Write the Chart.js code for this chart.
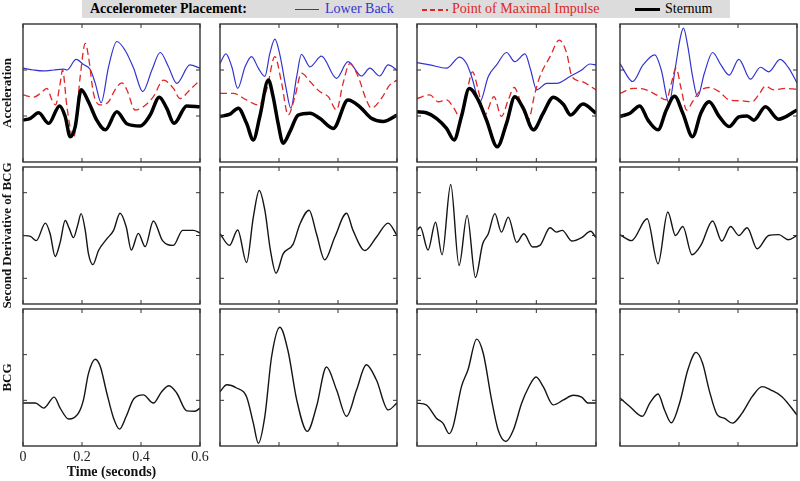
<!DOCTYPE html>
<html>
<head>
<meta charset="utf-8">
<script src="https://cdn.jsdelivr.net/npm/chart.js@4.4.1/dist/chart.umd.min.js"></script>
<style>
  body { margin: 0; background: #fff; }
  #page { position: relative; width: 800px; height: 481px; overflow: hidden; font-family: "Liberation Serif", serif; }
  #page canvas { position: absolute; }
  #legend { position: absolute; left: 82px; top: 0; width: 648px; height: 18px; background: #dcdcdc; font-size: 14px; line-height: 18px; }
  #legend span { position: absolute; top: 0; white-space: nowrap; }
  #legend i { position: absolute; display: block; }
</style>
</head>
<body>
<div id="page">
  <div id="legend">
    <span style="left:8px;font-weight:bold">Accelerometer Placement:</span>
    <i style="left:213px;top:9px;width:24px;height:1.2px;background:#3434d0"></i>
    <span style="left:243px;color:#3434d0">Lower Back</span>
    <i style="left:340px;top:9px;width:26px;height:1.5px;background:repeating-linear-gradient(90deg,#e02626 0 5px,transparent 5px 8px)"></i>
    <span style="left:370px;color:#e02626">Point of Maximal Impulse</span>
    <i style="left:553px;top:8px;width:25px;height:3px;background:#000"></i>
    <span style="left:583px">Sternum</span>
  </div>
</div>
<script>
// tick values
var timeTicks = [0, 0.2, 0.4, 0.6];
var accTicks = [-0.5, 0.5];
var d2Ticks = [-1, 0, 1];
var bcgTicks = [-0.5, 0.5];
var rowTitles = ['Acceleration', 'Second Derivative of BCG', 'BCG'];

// subject 1 - acceleration
var s1BackT = [0, .036, .07, .104, .138, .149, .18, .205, .228, .245, .265, .29, .318, .346, .375, .406, .437, .465, .493, .521, .566, .6];
var s1BackV = [.54, .50, .48, .50, .52, .50, .73, .62, .51, .21, -.21, .57, 1.12, .93, .54, .03, .50, .88, .57, .21, .61, .54];
var s1PmiT = [0, .036, .059, .081, .098, .11, .126, .134, .149, .171, .194, .211, .222, .239, .262, .29, .312, .335, .352, .38, .408, .442, .476, .51, .532, .566, .6];
var s1PmiV = [-.04, -.09, -.01, .10, -.15, -.26, .21, .50, -.30, -.99, .36, 1.08, .79, -.01, -.26, -.19, .07, .22, .07, -.37, -.30, -.08, .28, .10, -.12, .07, .28];
var s1SterT = [0, .025, .053, .087, .124, .143, .16, .177, .197, .222, .25, .279, .318, .352, .397, .431, .462, .487, .512, .555, .6];
var s1SterV = [-.59, -.55, -.43, -.66, -.28, -.51, -.95, -.73, .07, -.19, -.59, -.80, -.41, -.67, -.72, -.48, -.09, -.33, -.66, -.28, -.30];

// subject 2 - acceleration
var s2BackT = [0, .02, .04, .06, .085, .107, .13, .152, .169, .186, .203, .223, .24, .26, .276, .305, .344, .395, .434, .48, .508, .541, .57, .6];
var s2BackV = [.64, .85, .57, .10, .57, .79, .54, .36, .86, 1.17, .83, .14, -.33, .36, .84, .57, .80, .32, .68, .37, .54, .37, .61, .50];
var s2PmiT = [0, .045, .09, .13, .158, .186, .209, .231, .254, .276, .305, .338, .367, .395, .417, .44, .468, .496, .513, .547, .575, .6];
var s2PmiV = [-.01, -.01, -.15, -.26, .07, .79, .21, -.48, -.08, .43, .25, .03, -.08, -.37, .21, .64, .36, -.15, -.33, -.12, .17, .28];
var s2SterT = [0, .034, .062, .09, .113, .135, .164, .18, .197, .214, .237, .265, .305, .338, .384, .434, .474, .513, .553, .6];
var s2SterV = [-.51, -.46, -.33, -.66, -1.02, -.51, .28, -.08, -.66, -1.09, -.84, -.48, -.44, -.55, -.77, -.15, -.30, -.55, -.62, -.48];

// subject 3 - acceleration
var s3BackT = [0, .043, .099, .143, .166, .183, .211, .239, .267, .3, .328, .362, .381, .401, .435, .468, .513, .552, .58, .6];
var s3BackV = [.66, .61, .54, .78, .64, .36, -.19, .36, .61, .88, .68, .85, .50, .07, .21, .21, .36, .50, .63, .61];
var s3PmiT = [0, .043, .071, .099, .121, .143, .166, .186, .205, .227, .258, .283, .306, .326, .345, .373, .395, .412, .446, .477, .502, .519, .552, .6];
var s3PmiV = [-.12, -.04, -.19, -.15, -.30, -.51, -.01, .46, .07, -.48, -.08, -.51, -.15, .12, -.15, -.59, -.01, .36, .79, 1.15, .86, .36, .25, .07];
var s3SterT = [0, .031, .065, .099, .124, .149, .175, .205, .233, .269, .3, .328, .356, .39, .423, .457, .491, .515, .556, .6];
var s3SterV = [-.41, -.43, -.55, -.77, -1.02, -.51, .10, -.15, -.59, -1.17, -.66, -.08, -.33, -.80, -.44, -.09, -.25, -.48, -.24, -.44];

// subject 4 - acceleration
var s4BackT = [0, .043, .078, .118, .14, .166, .188, .205, .215, .23, .246, .263, .286, .314, .342, .37, .403, .442, .476, .504, .543, .571, .6];
var s4BackV = [.64, .25, .61, .83, .50, -.22, .57, 1.22, 1.41, 1.01, .36, -.08, .43, .88, .61, .39, .73, .30, .56, .46, .73, .55, .22];
var s4PmiT = [0, .045, .084, .123, .157, .174, .19, .207, .226, .246, .269, .302, .336, .37, .414, .448, .47, .493, .521, .56, .6];
var s4PmiV = [-.01, .10, .08, -.04, -.15, .21, .54, .10, -.37, -.19, .03, .12, .03, -.15, -.17, -.19, -.04, .15, .07, .10, .08];
var s4SterT = [0, .034, .067, .095, .129, .157, .185, .213, .246, .274, .302, .336, .37, .403, .431, .454, .493, .537, .6];
var s4SterV = [-.51, -.44, -.28, -.59, -.80, -.37, -.07, -.44, -.95, -.44, -.19, -.51, -.73, -.52, -.50, -.59, -.30, -.57, -.37];

// second derivative of BCG
var s1D2T = [0, .025, .045, .076, .092, .109, .126, .143, .157, .171, .185, .197, .211, .222, .237, .256, .284, .307, .329, .35, .367, .391, .414, .442, .473, .51, .541, .578, .6];
var s1D2V = [0, -.02, -.12, .29, .04, -.49, -.16, .35, .16, -.05, .23, .51, .12, -.43, -.68, -.35, -.08, .12, .52, .20, -.34, .05, -.26, .34, -.12, -.23, .12, .12, .06];
var s2D2T = [0, .032, .06, .09, .113, .133, .152, .171, .19, .214, .248, .271, .302, .327, .355, .389, .429, .451, .491, .53, .57, .6];
var s2D2V = [.04, -.23, .13, -.63, .43, 1.05, .59, -.35, -.88, -.43, -.20, .27, .59, .04, -.57, -.04, .52, .12, -.35, -.04, .29, 0];
var s3D2T = [0, .011, .037, .062, .084, .113, .141, .168, .196, .22, .239, .261, .283, .306, .334, .358, .388, .412, .446, .468, .487, .519, .552, .582, .6];
var s3D2V = [.12, .20, -.34, .31, -.45, 1.19, -.70, .47, -.98, -.20, .04, .51, .08, .43, -.16, .04, -.27, -.23, .18, .08, .12, -.13, -.05, .10, -.05];
var s4D2T = [0, .039, .092, .129, .162, .188, .213, .244, .274, .314, .345, .375, .403, .431, .465, .504, .538, .571, .6];
var s4D2V = [.02, -.12, .39, -.66, .55, 0, .21, -.45, -.23, .34, -.13, .21, 0, .18, -.31, 0, .02, -.10, 0];

// BCG
var s1BcgT = [0, .042, .07, .106, .126, .155, .188, .205, .222, .245, .262, .284, .307, .327, .35, .375, .408, .442, .47, .495, .521, .555, .583, .6];
var s1BcgV = [-.56, -.56, -.67, -.43, -.67, -.91, -.78, -.49, .09, .40, .24, -.34, -.89, -1.13, -.85, -.47, -.38, -.56, -.31, -.18, -.34, -.73, -.74, -.67];
var s2BcgT = [0, .023, .056, .09, .113, .13, .152, .175, .203, .231, .26, .296, .327, .361, .395, .429, .463, .496, .53, .57, .6];
var s2BcgV = [-.31, -.16, -.23, -.42, -1.00, -1.44, -.85, .46, 1.10, .57, -.49, -1.18, -.64, .23, -.27, -.85, -.27, .28, -.05, -.71, -.56];
var s3BcgT = [0, .031, .065, .087, .108, .121, .149, .171, .2, .222, .25, .272, .298, .323, .351, .373, .399, .423, .457, .491, .524, .552, .574, .6];
var s3BcgV = [-.56, -.60, -.89, -1.00, -1.23, -1.07, -.20, .17, .84, .53, -.49, -1.15, -1.40, -1.15, -.56, -.23, .01, -.20, -.60, -.49, -.39, -.43, -.56, -.56];
var s4BcgT = [0, .034, .076, .101, .129, .151, .174, .202, .23, .258, .28, .302, .33, .353, .381, .414, .448, .482, .51, .549, .6];
var s4BcgV = [-.45, -.64, -.85, -.56, -.36, -.71, -.99, -.56, .17, .55, .31, -.27, -.82, -.89, -1.00, -.78, -.42, -.20, -.27, -.42, -.82];

// layout of the panels (px)
var colL = [23, 220, 417, 620], colR = [200, 397, 596, 797];
var rowT = [24, 167, 309], rowB = [162, 304, 446];
var rowRange = [1.5, 1.6, 1.5];
var rowTicks = [accTicks, d2Ticks, bcgTicks];

var estilos = {
	back: { color: '#3434d0', width: 1.2, dash: [], order: 3 },
	pmi:  { color: '#e02626', width: 1.3, dash: [7, 4], order: 2 },
	ster: { color: '#000000', width: 3.5, dash: [], order: 1 },
	sig:  { color: '#151515', width: 1.4, dash: [], order: 1 }
};

var paineis = [
	{ row: 0, col: 0, lines: [[s1BackT, s1BackV, 'back'], [s1PmiT, s1PmiV, 'pmi'], [s1SterT, s1SterV, 'ster']] },
	{ row: 0, col: 1, lines: [[s2BackT, s2BackV, 'back'], [s2PmiT, s2PmiV, 'pmi'], [s2SterT, s2SterV, 'ster']] },
	{ row: 0, col: 2, lines: [[s3BackT, s3BackV, 'back'], [s3PmiT, s3PmiV, 'pmi'], [s3SterT, s3SterV, 'ster']] },
	{ row: 0, col: 3, lines: [[s4BackT, s4BackV, 'back'], [s4PmiT, s4PmiV, 'pmi'], [s4SterT, s4SterV, 'ster']] },
	{ row: 1, col: 0, lines: [[s1D2T, s1D2V, 'sig']] },
	{ row: 1, col: 1, lines: [[s2D2T, s2D2V, 'sig']] },
	{ row: 1, col: 2, lines: [[s3D2T, s3D2V, 'sig']] },
	{ row: 1, col: 3, lines: [[s4D2T, s4D2V, 'sig']] },
	{ row: 2, col: 0, lines: [[s1BcgT, s1BcgV, 'sig']] },
	{ row: 2, col: 1, lines: [[s2BcgT, s2BcgV, 'sig']] },
	{ row: 2, col: 2, lines: [[s3BcgT, s3BcgV, 'sig']] },
	{ row: 2, col: 3, lines: [[s4BcgT, s4BcgV, 'sig']] }
];

// moldura com ticks para dentro (estilo matlab)
var moldura = {
	id: 'moldura',
	afterDatasetsDraw: function (chart, args, opts) {
		var a = chart.chartArea, ctx = chart.ctx;
		var sx = chart.scales.x, sy = chart.scales.y;
		ctx.save();
		ctx.strokeStyle = '#333';
		ctx.lineWidth = 1.4;
		ctx.strokeRect(a.left, a.top, a.right - a.left, a.bottom - a.top);
		ctx.lineWidth = 1;
		ctx.beginPath();
		timeTicks.forEach(function (v) {
			var px = sx.getPixelForValue(v);
			ctx.moveTo(px, a.bottom); ctx.lineTo(px, a.bottom - 4);
			ctx.moveTo(px, a.top); ctx.lineTo(px, a.top + 4);
		});
		opts.ticks.forEach(function (v) {
			var py = sy.getPixelForValue(v);
			ctx.moveTo(a.left, py); ctx.lineTo(a.left + 4, py);
			ctx.moveTo(a.right, py); ctx.lineTo(a.right - 4, py);
		});
		ctx.stroke();
		ctx.restore();
	}
};

var page = document.getElementById('page');
var P = 3;     // folga normal
var PT = 14;   // folga extra na 1a coluna para o titulo do eixo y

paineis.forEach(function (p) {
	var first = p.col === 0;
	var corner = first && p.row === 2;
	var padL = first ? 0 : P;
	var padT = first ? PT : P;
	var padR = corner ? 14 : P;
	var padB = corner ? 0 : (first ? PT : P);
	var left = colL[p.col] - (first ? colL[0] : P);
	var top = rowT[p.row] - padT;
	var right = colR[p.col] + padR;
	var bottom = corner ? 481 : rowB[p.row] + padB;

	var cv = document.createElement('canvas');
	cv.width = right - left;
	cv.height = bottom - top;
	cv.style.left = left + 'px';
	cv.style.top = top + 'px';
	page.appendChild(cv);

	var datasets = p.lines.map(function (l) {
		var st = estilos[l[2]];
		return {
			data: l[0].map(function (t, i) { return { x: t, y: l[1][i] }; }),
			borderColor: st.color,
			borderWidth: st.width,
			borderDash: st.dash,
			order: st.order,
			pointRadius: 0,
			fill: false,
			cubicInterpolationMode: 'monotone'
		};
	});

	new Chart(cv, {
		type: 'line',
		data: { datasets: datasets },
		options: {
			responsive: false,
			animation: false,
			devicePixelRatio: 1,
			layout: { padding: { left: padL, top: padT, right: padR, bottom: padB } },
			plugins: {
				legend: { display: false },
				tooltip: { enabled: false },
				moldura: { ticks: rowTicks[p.row] }
			},
			scales: {
				x: {
					type: 'linear', min: 0, max: 0.6,
					display: corner,
					grid: { display: false, drawTicks: false },
					border: { display: false },
					ticks: { stepSize: 0.2, padding: 3, color: '#222', font: { family: 'Liberation Serif', size: 14 } },
					title: { display: true, text: 'Time (seconds)', color: '#111', padding: { top: 0, bottom: 0 },
						font: { family: 'Liberation Serif', size: 14, weight: 'bold' } },
					afterFit: function (s) { if (corner) s.height = 481 - rowB[2]; }
				},
				y: {
					type: 'linear', min: -rowRange[p.row], max: rowRange[p.row],
					display: first,
					grid: { display: false, drawTicks: false },
					border: { display: false },
					ticks: { display: false },
					title: { display: true, text: rowTitles[p.row], color: '#111', padding: { top: 0, bottom: 0 },
						font: { family: 'Liberation Serif', size: 13, weight: 'bold' } },
					afterFit: function (s) { if (first) s.width = colL[0]; }
				}
			}
		},
		plugins: [moldura]
	});
});
</script>
</body>
</html>
